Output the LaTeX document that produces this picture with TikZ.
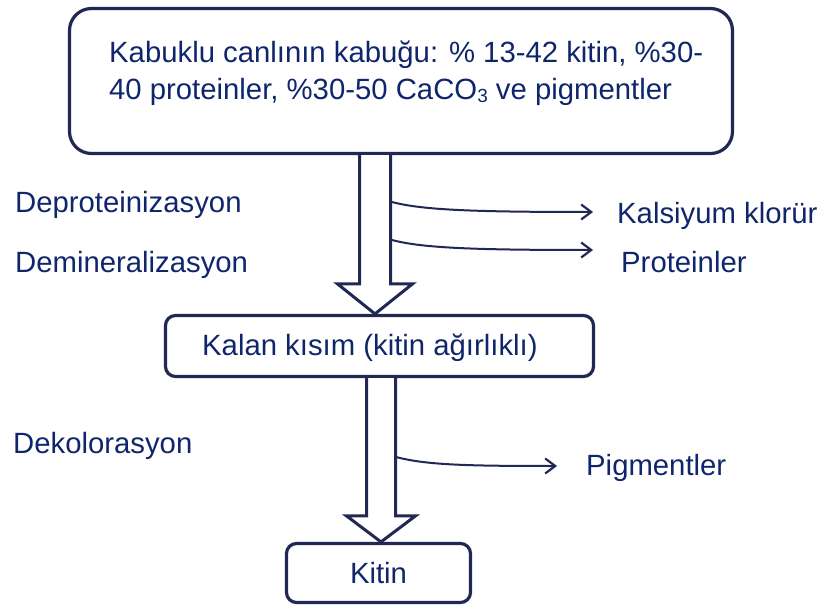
\documentclass[tikz,border=0pt]{standalone}
\usepackage{fontspec}
\setmainfont{Liberation Sans}
\usetikzlibrary{arrows.meta,calc}
\definecolor{txt}{RGB}{16,38,108}
\definecolor{ln}{RGB}{34,40,84}
\begin{document}
\begin{tikzpicture}[x=1pt,y=-1pt,
  every node/.style={font=\fontsize{29.3}{35}\selectfont, text=txt},
  lbl/.style={anchor=base west, inner sep=0pt},
  box/.style={draw=ln, line width=3.2pt, fill=white},
  hollow/.style={draw=ln, line width=3pt, fill=white, line join=miter},
  branch/.style={draw=ln, line width=2pt, -{Straight Barb[length=10pt,width=15pt,line width=2.2pt]}}]
\useasboundingbox (0,0) rectangle (820,607);
\fill[white] (0,0) rectangle (820,607);

% boxes
\node[box, rounded corners=22pt, minimum width=663pt, minimum height=145pt] (top) at (401,81) {};
\node[lbl] (t1) at (109,63) {Kabuklu canlının kabuğu: \% 13-42 kitin, \%30-};
\node[lbl] (t2) at (109,100) {40 proteinler, \%30-50 CaCO\raisebox{-3pt}{\fontsize{19}{19}\selectfont 3} ve pigmentler};

\node[box, rounded corners=10pt, minimum width=428pt, minimum height=61pt] (kalan) at (379.5,346) {};
\node[lbl] (kt) at (202,355) {Kalan kısım (kitin ağırlıklı)};

\node[box, rounded corners=10pt, minimum width=184pt, minimum height=59pt] (kitin) at (378.5,573) {Kitin};

% hollow arrows
\coordinate (s1) at (375,0);
\coordinate (s2) at (381,0);
\draw[hollow] ($(top.south -| s1)+(-15.5,0)$) -- ($(kalan.north -| s1)+(-15.5,-30)$) -- ++(-22,0)
  -- (kalan.north -| s1) -- ++(37.5,-30) -- ++(-22,0) -- ($(top.south -| s1)+(15.5,0)$);
\draw[hollow] ($(kalan.south -| s2)+(-14.5,0)$) -- ($(kitin.north -| s2)+(-14.5,-26)$) -- ++(-20,0)
  -- (kitin.north -| s2) -- ++(34.5,-26) -- ++(-20,0) -- ($(kalan.south -| s2)+(14.5,0)$);

% labels
\node[lbl] (dp) at (15,212) {Deproteinizasyon};
\node[lbl] (dm) at (15,272) {Demineralizasyon};
\node[lbl] (dk) at (13,453) {Dekolorasyon};
\node[lbl] (kc) at (617,223) {Kalsiyum klorür};
\node[lbl] (pr) at (621,272) {Proteinler};
\node[lbl] (pg) at (586,475) {Pigmentler};

% branch arrows
\coordinate (b1) at (392,202);
\coordinate (e1) at (593,212);
\coordinate (b2) at (392,240);
\coordinate (e2) at (593,250);
\coordinate (b3) at (396,457);
\coordinate (e3) at (557,466);
\draw[branch] (b1) .. controls +(30,8) and +(-120,0) .. (e1);
\draw[branch] (b2) .. controls +(30,8) and +(-120,0) .. (e2);
\draw[branch] (b3) .. controls +(30,8) and +(-90,0) .. (e3);
\end{tikzpicture}
\end{document}
